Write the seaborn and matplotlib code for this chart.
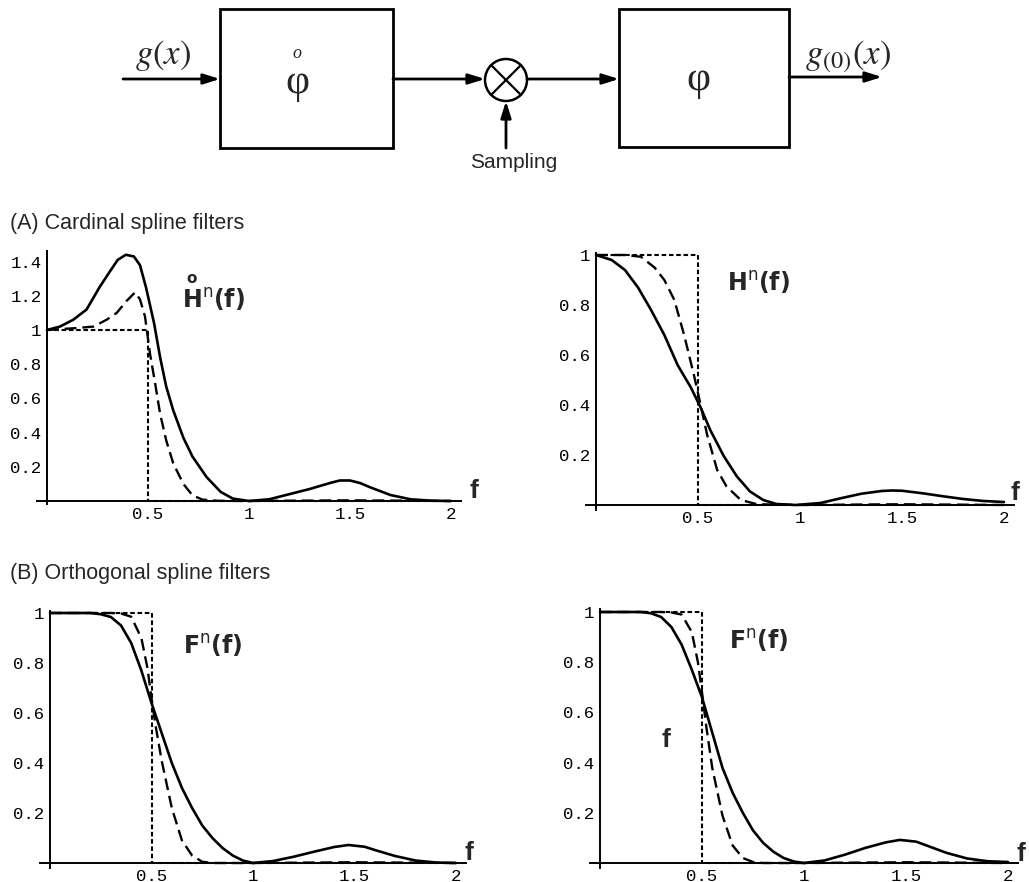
import numpy as np
import pandas as pd
import matplotlib
matplotlib.use("Agg")
import matplotlib.pyplot as plt
from matplotlib.patches import Rectangle, Circle
import seaborn as sns

# %% Curve values
# (A) left: cardinal prefilter
fa_solid = [0, .064, .13, .196, .26, .31, .35, .39, .43, .46, .49, .53, .56, .59, .625, .675, .72, .79, .86, .92, 1,
            1.1, 1.2, 1.3, 1.4, 1.45, 1.5, 1.55, 1.6, 1.7, 1.8, 1.9, 2]
ha_solid = [1, 1.02, 1.06, 1.12, 1.25, 1.34, 1.41, 1.44, 1.43, 1.38, 1.25, 1.04, .84, .67, .53, .37, .26, .14, .053, .014, 0,
            .01, .04, .07, .105, .12, .12, .105, .08, .035, .01, .002, 0]
fa_dash = [0, .13, .23, .295, .345, .394, .436, .46, .485, .51, .535, .56, .59, .625, .675, .72, .77, .85, 1, 1.5, 2]
ha_dash = [1, 1.01, 1.02, 1.06, 1.10, 1.17, 1.22, 1.18, 1.08, .86, .69, .51, .355, .22, .10, .033, .008, .001, 0, .004, 0]

# (A) right: cardinal filter
fb_solid = [0, .077, .142, .206, .27, .335, .40, .465, .513, .56, .626, .69, .755, .82, .884, .98,
            1.1, 1.2, 1.3, 1.4, 1.45, 1.5, 1.6, 1.7, 1.8, 1.9, 2]
hb_solid = [1, .98, .94, .87, .78, .68, .56, .47, .39, .30, .196, .115, .054, .02, .004, 0,
            .008, .027, .045, .056, .058, .057, .047, .035, .024, .016, .012]
fb_dash = [0, .142, .22, .287, .335, .384, .432, .48, .513, .545, .594, .64, .71, .79, 1, 1.5, 2]
hb_dash = [1, 1, .993, .95, .90, .82, .68, .52, .40, .28, .14, .074, .02, .003, 0, .003, 0]

# (B) orthogonal filters
fo_solid = [0, .1, .2, .25, .3, .35, .4, .45, .5, .55, .6, .65, .7, .75, .8, .85, .9, .95, 1,
            1.1, 1.2, 1.3, 1.4, 1.47, 1.55, 1.6, 1.7, 1.8, 1.9, 2]
fc_solid = [1, 1, 1, .995, .984, .95, .88, .77, .64, .52, .40, .30, .22, .15, .10, .06, .03, .01, 0,
            .008, .025, .045, .064, .072, .065, .052, .028, .01, .002, 0]
fd_solid = [1, 1, 1, .995, .98, .94, .87, .77, .66, .52, .38, .28, .20, .13, .08, .045, .02, .006, 0,
            .01, .033, .06, .082, .092, .085, .07, .04, .018, .007, .004]
fo_dash = [0, .2, .3, .35, .4, .45, .48, .5, .52, .55, .6, .65, .7, .75, .8, 1, 1.5, 2]
fc_dash = [1, 1, 1, .998, .985, .90, .78, .66, .55, .41, .22, .09, .03, .005, 0, 0, .003, 0]
fd_dash = [1, 1, 1, .998, .99, .92, .80, .68, .55, .38, .19, .07, .02, .004, 0, 0, .003, 0]

# ideal low-pass
f_ideal = [0, .5, .5, 2]
h_ideal = [1, 1, 0, 0]

xticks = [0.5, 1, 1.5, 2]
xticklabels = ['0.5', '1', '1.5', '2']
yticks_a = [0.2, 0.4, 0.6, 0.8, 1, 1.2, 1.4]
yticks_b = [0.2, 0.4, 0.6, 0.8, 1]

# %% Style
sns.set_style('white')
plt.rcParams['font.family'] = ['Liberation Sans', 'DejaVu Sans']

W, H = 1029, 882
fig = plt.figure(figsize=(W / 100, H / 100), dpi=100)


def px_axes(x0, xs, y0, ys, xlim, ylim):
    # place an axes so data (0,0) lands on pixel (x0, y0)
    left = x0 + xlim[0] * xs
    right = x0 + xlim[1] * xs
    bottom = y0 - ylim[0] * ys
    top = y0 - ylim[1] * ys
    ax = fig.add_axes([left / W, 1 - bottom / H, (right - left) / W, (bottom - top) / H])
    ax.set_xlim(*xlim)
    ax.set_ylim(*ylim)
    return ax


def style(ax, yticks):
    for s in ['top', 'right']:
        ax.spines[s].set_visible(False)
    for s in ['left', 'bottom']:
        ax.spines[s].set_position(('data', 0))
        ax.spines[s].set_linewidth(1.4)
        ax.spines[s].set_color('k')
    ax.set_xticks(xticks)
    ax.set_xticklabels(xticklabels)
    ax.set_yticks(yticks)
    ax.set_yticklabels([('%g' % v) for v in yticks])
    ax.tick_params(direction='inout', length=6, width=1.1, pad=1, colors='k', labelsize=12.5)
    for lab in ax.get_xticklabels() + ax.get_yticklabels():
        lab.set_family('Liberation Mono')
    ax.set_xlabel('')
    ax.set_ylabel('')
    ax.patch.set_alpha(0)


def curves(ax, fs, hs, fd, hd):
    sns.lineplot(x=fs, y=hs, ax=ax, color='k', lw=1.9, estimator=None, sort=False)
    sns.lineplot(x=fd, y=hd, ax=ax, color='k', lw=1.7, linestyle=(0, (5, 2.5)), estimator=None, sort=False)
    sns.lineplot(x=f_ideal, y=h_ideal, ax=ax, color='k', lw=1.5, linestyle=(0, (2.2, 1.3)),
                 estimator=None, sort=False)


lab_kw = dict(fontsize=17, math_fontfamily='dejavusans', va='center', ha='left')
f_kw = dict(fontsize=19, fontweight='bold', va='bottom', ha='left')

# (A) left
ax1 = px_axes(47, 202, 501, 171, (-0.05, 2.05), (-0.02, 1.46))
curves(ax1, fa_solid, ha_solid, fa_dash, ha_dash)
style(ax1, yticks_a)
ax1.text(0.67, 1.18, r'$\mathbf{H}^{\mathrm{n}}\mathbf{(f)}$', **lab_kw)
ax1.text(0.717, 1.30, 'o', fontsize=11, fontweight='bold', family='DejaVu Sans', ha='center', va='center')
ax1.text(2.09, -0.01, 'f', **f_kw)

# (A) right
ax2 = px_axes(596, 204, 505, 250, (-0.05, 2.05), (-0.02, 1.01))
curves(ax2, fb_solid, hb_solid, fb_dash, hb_dash)
style(ax2, yticks_b)
ax2.text(0.64, 0.89, r'$\mathbf{H}^{\mathrm{n}}\mathbf{(f)}$', **lab_kw)
ax2.text(2.03, 0.0, 'f', **f_kw)

# (B) left
ax3 = px_axes(50, 203, 863, 250, (-0.05, 2.05), (-0.02, 1.01))
curves(ax3, fo_solid, fc_solid, fo_dash, fc_dash)
style(ax3, yticks_b)
ax3.text(0.655, 0.87, r'$\mathbf{F}^{\mathrm{n}}\mathbf{(f)}$', **lab_kw)
ax3.text(2.04, -0.01, 'f', **f_kw)

# (B) right
ax4 = px_axes(600, 204, 863, 251, (-0.05, 2.05), (-0.02, 1.01))
curves(ax4, fo_solid, fd_solid, fo_dash, fd_dash)
style(ax4, yticks_b)
ax4.text(0.63, 0.885, r'$\mathbf{F}^{\mathrm{n}}\mathbf{(f)}$', **lab_kw)
ax4.text(0.30, 0.49, 'f', fontsize=19, fontweight='bold', va='center', ha='left')
ax4.text(2.04, -0.01, 'f', **f_kw)

fig.text(10 / W, 1 - 223 / H, '(A) Cardinal spline filters', fontsize=15.5, va='center', ha='left')
fig.text(10 / W, 1 - 573 / H, '(B) Orthogonal spline filters', fontsize=15.5, va='center', ha='left')

# %% Block diagram on top (pixel coordinates)
ax0 = fig.add_axes([0, 1 - 200 / H, 1, 200 / H])
ax0.set_xlim(0, W)
ax0.set_ylim(200, 0)
ax0.axis('off')

ax0.add_patch(Rectangle((220, 9), 173, 139, fill=False, lw=2, ec='k'))
ax0.add_patch(Rectangle((619, 9), 170, 138, fill=False, lw=2, ec='k'))
ax0.add_patch(Circle((506, 80), 21, fill=False, lw=1.8, ec='k'))
d = 21 * np.cos(np.pi / 4)
ax0.plot([506 - d, 506 + d], [80 - d, 80 + d], color='k', lw=1.6)
ax0.plot([506 - d, 506 + d], [80 + d, 80 - d], color='k', lw=1.6)

arr = dict(arrowstyle='-|>,head_length=0.7,head_width=0.22', lw=2, color='k',
           shrinkA=0, shrinkB=0, mutation_scale=14)
for (xa, ya), (xb, yb) in [((123, 79), (220, 79)), ((393, 79), (485, 79)),
                           ((527, 79), (619, 79)), ((789, 77), (882, 77)),
                           ((506, 148), (506, 101))]:
    ax0.annotate('', xy=(xb, yb), xytext=(xa, ya), arrowprops=arr)

ax0.text(163, 64, r'$g(x)$', math_fontfamily='stix', fontsize=25, ha='center', va='baseline')
ax0.text(848, 64, r'$g_{(0)}(x)$', math_fontfamily='stix', fontsize=25, ha='center', va='baseline')
ax0.text(297, 83, 'φ', family='Liberation Serif', fontsize=30, ha='center', va='center')
ax0.text(297, 53, 'o', family='Liberation Serif', style='italic', fontsize=13, ha='center', va='center')
ax0.text(698, 80, 'φ', family='Liberation Serif', fontsize=30, ha='center', va='center')
ax0.text(514, 163, 'Sampling', fontsize=15, ha='center', va='center')

fig.savefig('out.png', dpi=100, facecolor='white')
